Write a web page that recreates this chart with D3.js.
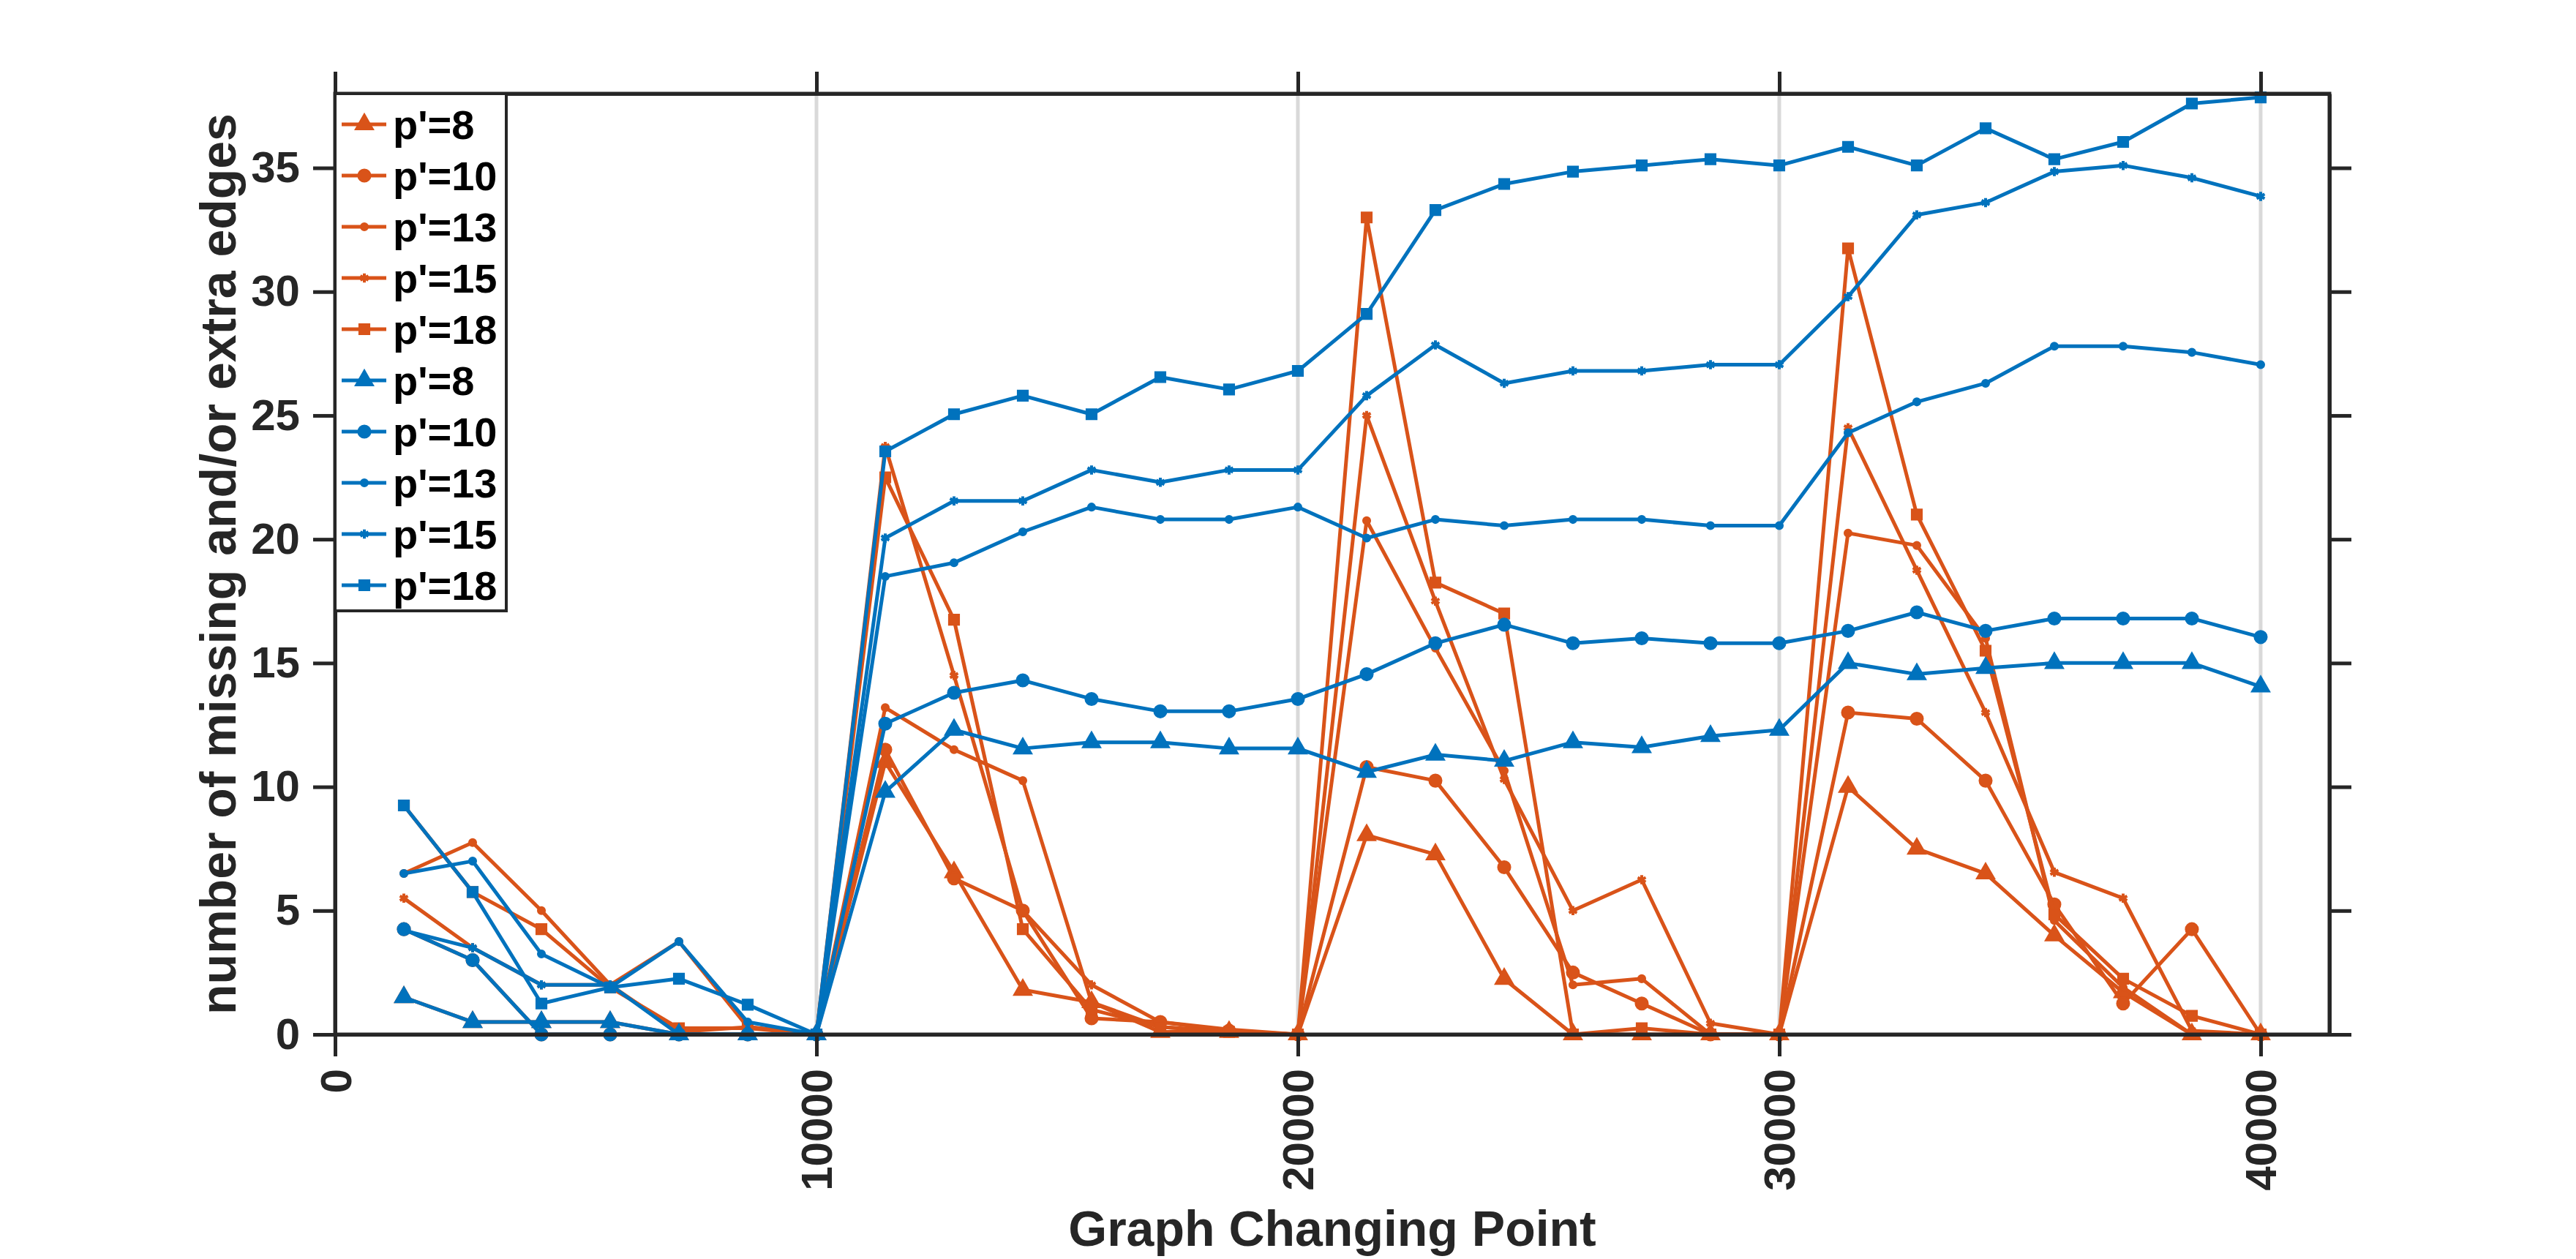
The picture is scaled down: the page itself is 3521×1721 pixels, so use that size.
<!DOCTYPE html>
<html>
<head>
<meta charset="utf-8">
<script src="https://cdn.jsdelivr.net/npm/d3@7"></script>
<style>
  body { margin: 0; background: #fff; }
  text { font-family: "Liberation Sans", Arial, Helvetica, sans-serif; font-weight: bold; fill: #262626; }
</style>
</head>
<body>
<div id="container"></div>
<script>
/* CONSTANTS AND GLOBALS */
const width = 3521;
const height = 1721;
const margin = { top: 128, bottom: 307, left: 458, right: 337 };

/* DATA */
const changePoints = [1429, 2857, 4286, 5714, 7143, 8571, 10000,
  11429, 12857, 14286, 15714, 17143, 18571, 20000,
  21429, 22857, 24286, 25714, 27143, 28571, 30000,
  31429, 32857, 34286, 35714, 37143, 38571, 40000];

const xTicks = [0, 10000, 20000, 30000, 40000];
const yTicks = [0, 5, 10, 15, 20, 25, 30, 35];
const xMax = 41429;
const yMax = 38;

const labels = ["p'=8", "p'=10", "p'=13", "p'=15", "p'=18"];
const markers = ["triangle", "circle", "dot", "asterisk", "square"];

// orange group
const orange8 = [1.5, 0.5, 0.5, 0.5, 0, 0, 0,
  11.0, 6.55, 1.8, 1.3, 0.1, 0.1, 0,
  8.05, 7.27, 2.24, 0, 0, 0, 0,
  10.0, 7.5, 6.5, 4.0, 1.7, 0, 0];
const orange10 = [4.25, 3.0, 0, 0, 0, 0, 0,
  11.5, 6.3, 5.0, 0.65, 0.5, 0.15, 0,
  10.8, 10.25, 6.75, 2.5, 1.25, 0, 0,
  13.0, 12.75, 10.25, 5.25, 1.25, 4.25, 0];
const orange13 = [6.5, 7.75, 5.0, 2.0, 3.75, 0.3, 0,
  13.2, 11.5, 10.25, 1.3, 0.3, 0.1, 0,
  20.75, 15.6, 10.65, 2.0, 2.25, 0, 0,
  20.25, 19.75, 16.0, 4.6, 1.9, 0, 0];
const orange15 = [5.5, 3.5, 2.0, 2.0, 0.1, 0.3, 0,
  23.75, 14.5, 5.0, 2.0, 0.5, 0.2, 0,
  25.0, 17.5, 10.3, 5.0, 6.25, 0.45, 0,
  24.5, 18.75, 13.0, 6.55, 5.5, 0.15, 0];
const orange18 = [9.25, 5.75, 4.25, 1.9, 0.25, 0.25, 0,
  22.5, 16.75, 4.25, 1.0, 0.3, 0.1, 0,
  33.0, 18.25, 17.0, 0, 0.25, 0, 0,
  31.75, 21.0, 15.5, 4.85, 2.25, 0.75, 0];

// blue group
const blue8 = [1.5, 0.5, 0.5, 0.5, 0, 0, 0,
  9.8, 12.3, 11.55, 11.8, 11.8, 11.55, 11.55,
  10.6, 11.3, 11.05, 11.8, 11.6, 12.05, 12.3,
  15.0, 14.55, 14.8, 15.0, 15.0, 15.0, 14.05];
const blue10 = [4.25, 3.0, 0, 0, 0, 0, 0,
  12.55, 13.8, 14.3, 13.55, 13.05, 13.05, 13.55,
  14.55, 15.8, 16.55, 15.8, 16.0, 15.8, 15.8,
  16.3, 17.05, 16.3, 16.8, 16.8, 16.8, 16.05];
const blue13 = [6.5, 7.0, 3.25, 1.9, 3.75, 0.5, 0,
  18.5, 19.05, 20.3, 21.3, 20.8, 20.8, 21.3,
  20.05, 20.8, 20.55, 20.8, 20.8, 20.55, 20.55,
  24.3, 25.55, 26.3, 27.8, 27.8, 27.55, 27.05];
const blue15 = [4.2, 3.5, 2.0, 2.0, 0, 0, 0,
  20.05, 21.55, 21.55, 22.8, 22.3, 22.8, 22.8,
  25.8, 27.85, 26.3, 26.8, 26.8, 27.05, 27.05,
  29.8, 33.1, 33.6, 34.85, 35.1, 34.6, 33.85];
const blue18 = [9.25, 5.75, 1.25, 1.9, 2.25, 1.2, 0,
  23.55, 25.05, 25.8, 25.05, 26.55, 26.05, 26.8,
  29.1, 33.3, 34.35, 34.85, 35.1, 35.35, 35.1,
  35.85, 35.1, 36.6, 35.35, 36.05, 37.6, 37.85];

const orangeColor = "#D95319";
const blueColor = "#0072BD";
const axisColor = "#262626";

let xScale, yScale;

/* APPLICATION STATE */
let state = {
  series: [],
};

state.series = [
  ...[orange8, orange10, orange13, orange15, orange18].map((v, i) =>
    ({ label: labels[i], marker: markers[i], color: orangeColor, values: v })),
  ...[blue8, blue10, blue13, blue15, blue18].map((v, i) =>
    ({ label: labels[i], marker: markers[i], color: blueColor, values: v })),
];

init();

// marker shapes, roughly matching the matlab ones
function markerPath(type) {
  if (type === "triangle") return d3.symbol(d3.symbolTriangle, 260)();
  if (type === "circle") return d3.symbol(d3.symbolCircle, 230)();
  if (type === "dot") return d3.symbol(d3.symbolCircle, 80)();
  if (type === "asterisk") return d3.symbol(d3.symbolAsterisk || d3.symbolCross, 110)();
  return d3.symbol(d3.symbolSquare, 200)();
}

function drawMarker(sel, type, color) {
  sel.attr("d", markerPath(type))
    .attr("fill", type === "asterisk" ? "none" : color)
    .attr("stroke", color)
    .attr("stroke-width", type === "asterisk" ? 4 : 2);
}

/* INITIALIZING FUNCTION */
function init() {
  xScale = d3.scaleLinear()
    .domain([0, xMax])
    .range([margin.left, width - margin.right]);

  yScale = d3.scaleLinear()
    .domain([0, yMax])
    .range([height - margin.bottom, margin.top]);

  const svg = d3.select("#container")
    .append("svg")
    .attr("width", width)
    .attr("height", height)
    .style("background", "#fff");

  // vertical grid lines
  svg.append("g")
    .selectAll("line")
    .data(xTicks.filter(d => d > 0))
    .join("line")
    .attr("x1", d => xScale(d))
    .attr("x2", d => xScale(d))
    .attr("y1", margin.top)
    .attr("y2", height - margin.bottom)
    .attr("stroke", "#d9d9d9")
    .attr("stroke-width", 5);

  // lines + markers
  const line = d3.line()
    .x((d, i) => xScale(changePoints[i]))
    .y(d => yScale(d));

  const group = svg.selectAll(".series")
    .data(state.series)
    .join("g")
    .attr("class", "series");

  group.append("path")
    .attr("d", d => line(d.values))
    .attr("fill", "none")
    .attr("stroke", d => d.color)
    .attr("stroke-width", 5)
    .attr("stroke-linejoin", "round");

  group.each(function(s) {
    d3.select(this).selectAll(".mk")
      .data(s.values)
      .join("path")
      .attr("class", "mk")
      .attr("transform", (d, i) => `translate(${xScale(changePoints[i])},${yScale(d)})`)
      .call(drawMarker, s.marker, s.color);
  });

  /* AXES */
  const tickLen = 30;
  const xAxis = svg.append("g")
    .attr("class", "xAxis")
    .attr("transform", `translate(0,${height - margin.bottom})`)
    .call(d3.axisBottom(xScale).tickValues(xTicks).tickSize(tickLen).tickSizeOuter(0).tickFormat(d3.format("d")));

  xAxis.selectAll("text")
    .attr("transform", "rotate(-90)")
    .attr("x", -47)
    .attr("y", 0)
    .attr("dy", "0.35em")
    .attr("text-anchor", "end")
    .style("font-size", "60px");

  const yAxis = svg.append("g")
    .attr("class", "yAxis")
    .attr("transform", `translate(${margin.left},0)`)
    .call(d3.axisLeft(yScale).tickValues(yTicks).tickSize(tickLen).tickSizeOuter(0).tickPadding(18));

  yAxis.selectAll("text").style("font-size", "60px");

  svg.append("g")
    .attr("transform", `translate(0,${margin.top})`)
    .call(d3.axisTop(xScale).tickValues(xTicks).tickSize(tickLen).tickSizeOuter(0).tickFormat(""));

  svg.append("g")
    .attr("transform", `translate(${width - margin.right},0)`)
    .call(d3.axisRight(yScale).tickValues(yTicks).tickSize(tickLen).tickSizeOuter(0).tickFormat(""));

  svg.selectAll(".domain, .tick line")
    .attr("stroke", axisColor)
    .attr("stroke-width", 5);

  // box corners so they meet cleanly
  svg.append("rect")
    .attr("x", margin.left)
    .attr("y", margin.top)
    .attr("width", width - margin.left - margin.right)
    .attr("height", height - margin.top - margin.bottom)
    .attr("fill", "none")
    .attr("stroke", axisColor)
    .attr("stroke-width", 5);

  // axis titles
  svg.append("text")
    .attr("x", (margin.left + width - margin.right) / 2)
    .attr("y", 1703)
    .attr("text-anchor", "middle")
    .style("font-size", "68px")
    .text("Graph Changing Point");

  svg.append("text")
    .attr("transform", `translate(322,${(margin.top + height - margin.bottom) / 2}) rotate(-90)`)
    .attr("text-anchor", "middle")
    .style("font-size", "68px")
    .text("number of missing and/or extra edges");

  /* LEGEND */
  const legend = svg.append("g").attr("class", "legend");
  legend.append("rect")
    .attr("x", margin.left)
    .attr("y", margin.top)
    .attr("width", 234)
    .attr("height", 707)
    .attr("fill", "#fff")
    .attr("stroke", axisColor)
    .attr("stroke-width", 4);

  const item = legend.selectAll(".item")
    .data(state.series)
    .join("g")
    .attr("class", "item")
    .attr("transform", (d, i) => `translate(${margin.left},${170 + i * 70})`);

  item.append("line")
    .attr("x1", 9)
    .attr("x2", 70)
    .attr("stroke", d => d.color)
    .attr("stroke-width", 5);

  item.append("path")
    .attr("transform", "translate(40,0)")
    .each(function(d) { d3.select(this).call(drawMarker, d.marker, d.color); });

  item.append("text")
    .attr("x", 79)
    .attr("dy", "0.36em")
    .style("font-size", "56px")
    .style("fill", "#000")
    .text(d => d.label);
}
</script>
</body>
</html>
